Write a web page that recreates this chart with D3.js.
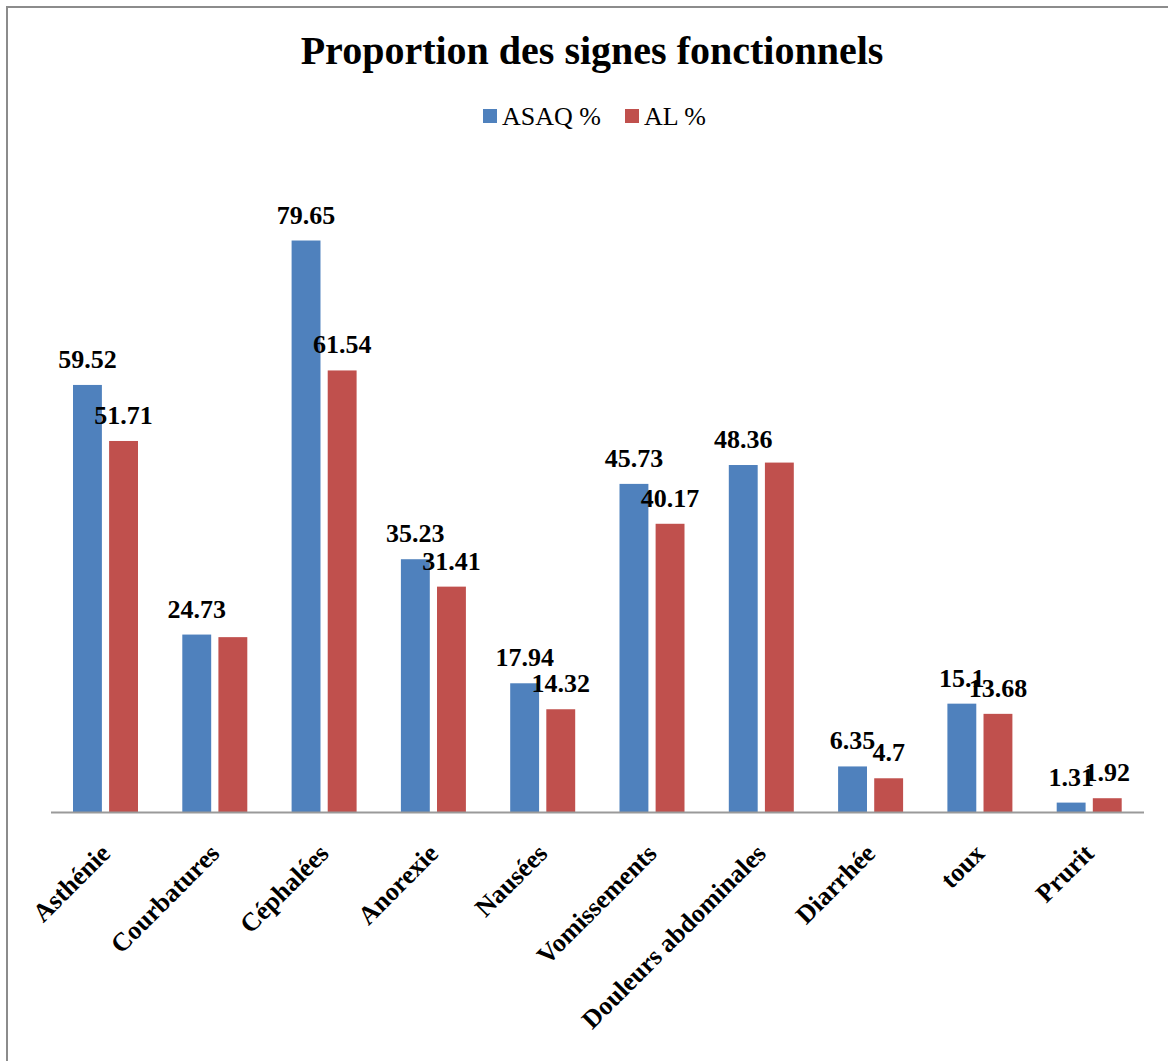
<!DOCTYPE html>
<html>
<head>
<meta charset="utf-8">
<script src="https://cdn.jsdelivr.net/npm/d3@7"></script>
<style>
  html, body { margin: 0; padding: 0; background: #fff; }
  svg { display: block; }
</style>
</head>
<body>
<svg id="chart" width="1168" height="1061"></svg>
<script>
// Symptom categories and the share (%) reported in each treatment group
const categories = ["Asthénie", "Courbatures", "Céphalées", "Anorexie", "Nausées",
  "Vomissements", "Douleurs abdominales", "Diarrhée", "toux", "Prurit"];
const series = ["ASAQ %", "AL %"];
const asaqValues = [59.52, 24.73, 79.65, 35.23, 17.94, 45.73, 48.36, 6.35, 15.1, 1.31];
const alValues   = [51.71, 24.37, 61.54, 31.41, 14.32, 40.17, 48.7, 4.7, 13.68, 1.92];
// Value labels printed above the bars (null where no label is shown)
const asaqLabels = ["59.52", "24.73", "79.65", "35.23", "17.94", "45.73", "48.36", "6.35", "15.1", "1.31"];
const alLabels   = ["51.71", null, "61.54", "31.41", "14.32", "40.17", null, "4.7", "13.68", "1.92"];
const colors = ["#4F81BD", "#C0504D"];

const rows = categories.map((c, i) => ({
  category: c,
  values: [
    { key: series[0], value: asaqValues[i], label: asaqLabels[i] },
    { key: series[1], value: alValues[i], label: alLabels[i] }
  ]
}));

const svg = d3.select("#chart");
const serif = "'Liberation Serif', 'Times New Roman', serif";

// Outer frame (only top and left edges are visible in the canvas)
svg.append("rect")
  .attr("x", 7).attr("y", 7)
  .attr("width", 1300).attr("height", 1200)
  .attr("fill", "none")
  .attr("stroke", "#8c8c8c")
  .attr("stroke-width", 2);

// Title
svg.append("text")
  .attr("x", 592).attr("y", 64)
  .attr("text-anchor", "middle")
  .attr("font-family", serif)
  .attr("font-weight", "bold")
  .attr("font-size", 40)
  .text("Proportion des signes fonctionnels");

// Scales
const baseline = 812;
const x0 = d3.scaleBand().domain(categories).range([51, 1144]).paddingInner(0).paddingOuter(0);
const x1 = d3.scaleBand().domain(series).range([22, 87]).paddingInner(0.2);
const y = d3.scaleLinear().domain([0, 80]).range([baseline, 238]);
const color = d3.scaleOrdinal().domain(series).range(colors);

// Legend
const legend = svg.append("g").attr("font-family", serif).attr("font-size", 26);
const legendX = [483, 625];
series.forEach((s, i) => {
  legend.append("rect")
    .attr("x", legendX[i]).attr("y", 109)
    .attr("width", 14).attr("height", 14)
    .attr("fill", color(s));
  legend.append("text")
    .attr("x", legendX[i] + 19).attr("y", 125)
    .text(s);
});

// Bars
const groups = svg.append("g").selectAll("g")
  .data(rows)
  .join("g")
  .attr("transform", d => `translate(${x0(d.category)},0)`);

groups.selectAll("rect")
  .data(d => d.values)
  .join("rect")
  .attr("x", d => x1(d.key))
  .attr("y", d => y(d.value))
  .attr("width", x1.bandwidth())
  .attr("height", d => y(0) - y(d.value))
  .attr("fill", d => color(d.key));

// Category axis line
svg.append("line")
  .attr("x1", x0.range()[0]).attr("x2", x0.range()[1])
  .attr("y1", baseline + 0.5).attr("y2", baseline + 0.5)
  .attr("stroke", "#9a9a9a")
  .attr("stroke-width", 2);

// Value labels
groups.selectAll("text.val")
  .data(d => d.values.filter(v => v.label !== null))
  .join("text")
  .attr("class", "val")
  .attr("x", d => x1(d.key) + x1.bandwidth() / 2)
  .attr("y", d => y(d.value) - 17)
  .attr("text-anchor", "middle")
  .attr("font-family", serif)
  .attr("font-weight", "bold")
  .attr("font-size", 26)
  .text(d => d.label);

// Rotated category labels
svg.append("g").selectAll("text")
  .data(categories)
  .join("text")
  .attr("transform", d => `translate(${x0(d) + x0.bandwidth() / 2 + 6},${baseline + 43}) rotate(-45)`)
  .attr("text-anchor", "end")
  .attr("font-family", serif)
  .attr("font-weight", "bold")
  .attr("font-size", 26)
  .text(d => d);
</script>
</body>
</html>
